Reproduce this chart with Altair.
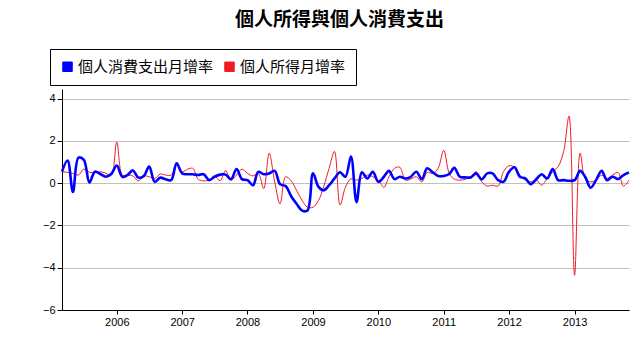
import altair as alt
import pandas as pd

start_month = "2005-03-01"
n_months = 105

pce = [0.54, 1.07, -0.42, 1.2, 1.1, 0.03, 0.54, 0.43, 0.3, 0.43,
       0.83, 0.3, 0.38, 0.6, 0.26, 0.34, 0.78, 0.06, 0.26, 0.18,
       0.14, 0.94, 0.46, 0.42, 0.42, 0.38, 0.42, 0.14, 0.3, 0.4,
       0.4, 0.18, 0.67, 0.19, 0.14, -0.1, 0.53, 0.42, 0.46, 0.58,
       -0.05, -0.14, -0.62, -0.98, -1.3, -1.3, 0.46, -0.18, -0.34, -0.1,
       0.22, 0.51, 0.3, 1.26, -0.9, 0.51, 0.22, 0.54, 0.06, 0.3,
       0.58, 0.19, 0.3, 0.22, 0.3, 0.54, 0.19, 0.7, 0.51, 0.34,
       0.34, 0.43, 0.72, 0.3, 0.27, 0.27, 0.46, 0.18, 0.46, 0.46,
       0.14, 0.06, 0.54, 0.75, 0.3, 0.22, -0.05, 0.18, 0.42, 0.22,
       0.66, 0.14, 0.14, 0.11, 0.14, 0.58, 0.3, -0.22, 0.14, 0.58,
       0.14, 0.3, 0.19, 0.38, 0.51]

income = [0.54, 0.51, 0.46, 0.38, 0.66, 0.51, 0.5, 0.54, 0.46, 0.38,
          1.94, 0.38, 0.38, 0.34, 0.1, 0.34, 0.3, 0.22, 0.43, 0.38,
          0.38, 0.86, 0.54, 0.66, 0.7, 0.18, 0.11, 0.14, 0.34, 0.11,
          0.59, 0.14, 0.38, 0.66, 0.46, 0.34, 0.46, -0.26, 1.42, 0.06,
          -0.98, 0.3, 0.11, -0.34, -0.82, -1.14, -1.14, -0.82, -0.18, 0.7,
          1.5, -1.04, -0.2, 0.2, 0.14, 0.22, 0.38, 0.3, 0.14, -0.2,
          0.3, 0.7, 0.75, 0.14, 0.19, 0.3, 0.06, 0.5, 0.46, 0.7,
          1.55, 0.46, 0.19, 0.14, 0.18, 0.3, 0.54, 0.06, -0.14, -0.1,
          -0.14, 0.54, 0.82, 0.75, 0.38, 0.14, 0.06, 0.14, -0.1, 0.22,
          0.54, 0.78, 1.5, 3.17, -4.36, 1.42, 0.22, 0.06, 0.14, 0.38,
          0.22, 0.38, 0.5, -0.14, 0.14]

pce_name = "個人消費支出月增率"
inc_name = "個人所得月增率"
series_names = [pce_name, inc_name]
series_colors = ["#0000ff", "#f01c24"]
year_ticks = [2006, 2007, 2008, 2009, 2010, 2011, 2012, 2013]
y_ticks = [-6, -4, -2, 0, 2, 4]

dates = pd.date_range(start_month, periods=n_months, freq="MS")
df = pd.concat([
    pd.DataFrame({"date": dates, "value": pce, "series": pce_name}),
    pd.DataFrame({"date": dates, "value": income, "series": inc_name}),
])

font_cjk = "Noto Sans CJK TC"
font_lat = "Liberation Sans"

color = alt.Color(
    "series:N",
    scale=alt.Scale(domain=series_names, range=series_colors),
    legend=alt.Legend(title=None, orient="none", legendX=-12, legendY=-40,
                      direction="horizontal", columns=2),
)

x = alt.X(
    "date:T",
    scale=alt.Scale(nice=False),
    axis=alt.Axis(
        title=None, format="%Y", grid=False,
        values=[pd.Timestamp(f"{y}-01-01").isoformat() for y in year_ticks],
        labelFont=font_lat, labelFontSize=11, labelColor="black",
        domainColor="black", tickColor="black", tickSize=4, labelPadding=2,
    ),
)
y = alt.Y(
    "value:Q",
    scale=alt.Scale(domain=[-6, 4.45], nice=False, zero=False),
    axis=alt.Axis(
        title=None, values=y_ticks, grid=True, gridColor="#c0c0c0",
        labelFont=font_lat, labelFontSize=11, labelColor="black",
        domainColor="black", tickColor="black", tickSize=5, labelPadding=2,
    ),
)

base = alt.Chart(df)
# Zero-size squares carry the legend (filled squares with black outline).
legend_layer = base.mark_square(
    filled=True, size=0, stroke="black", strokeWidth=1
).encode(x=x, y=y, color=color)
red = base.transform_filter(alt.datum.series == inc_name).mark_line(
    interpolate="catmull-rom", strokeWidth=1
).encode(x=x, y=y, color=color)
blue = base.transform_filter(alt.datum.series == pce_name).mark_line(
    interpolate="catmull-rom", strokeWidth=2.6
).encode(x=x, y=y, color=color)

chart = alt.layer(legend_layer, red, blue).properties(
    width=567, height=221,
    autosize="none",
    padding={"left": 62, "top": 89, "right": 13, "bottom": 44},
    title=alt.TitleParams(
        "個人所得與個人消費支出", anchor="middle", font=font_cjk,
        fontSize=19, fontWeight="bold", color="black", dx=-6, offset=19,
    ),
).configure_view(stroke=None).configure_legend(
    padding=10, strokeColor="black", fillColor="white", cornerRadius=0,
    labelFont=font_cjk, labelFontSize=15, labelColor="black",
    labelLimit=400, labelOffset=3, columnPadding=8,
    symbolType="square", symbolSize=90,
    symbolStrokeColor="black", symbolStrokeWidth=1, symbolOpacity=1,
)

chart.save("out.html", embed_options={"renderer": "svg", "actions": False})
